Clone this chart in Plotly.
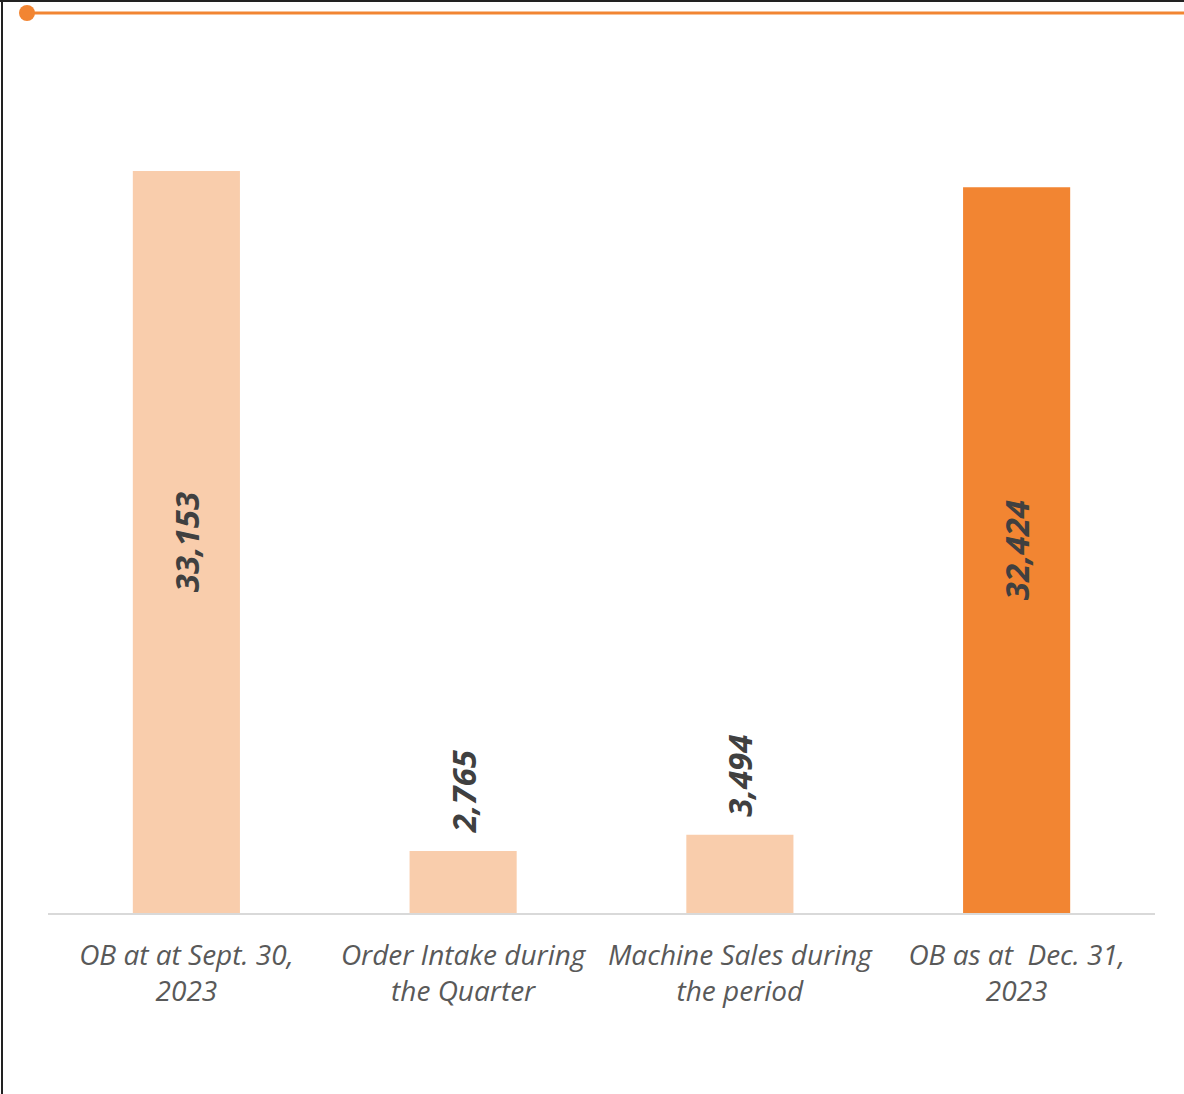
import plotly.graph_objects as go

categories = ["OB at at Sept. 30,<br>2023", "Order Intake during<br>the Quarter",
              "Machine Sales during<br>the period", "OB as at  Dec. 31,<br>2023"]
values = [33153, 2765, 3494, 32424]
labels = ["33,153", "2,765", "3,494", "32,424"]
colors = ["#F9CDAC", "#F9CDAC", "#F9CDAC", "#F28532"]
inside = [True, False, False, True]

W, H = 1184, 1094
L, R, T, B = 48, 29, 100, 181
pw, ph = W - L - R, H - T - B

def px(x):
    return (x - L) / pw

def py(y):
    return (H - B - y) / ph

lab_font = dict(family="Open Sans", size=33, color="#404040", weight="bold", style="italic")

fig = go.Figure(go.Bar(
    x=categories, y=values, marker_color=colors, marker_line_width=0,
    text=[l if i else "" for l, i in zip(labels, inside)], textposition="inside", textangle=-90,
    insidetextanchor="middle", cliponaxis=False, textfont=lab_font,
))

for c, v, l, i in zip(categories, values, labels, inside):
    if not i:
        fig.add_annotation(x=c, y=v, text=l, textangle=-90, showarrow=False,
                           yanchor="bottom", yshift=16, font=lab_font)

fig.update_layout(
    width=W, height=H, margin=dict(l=L, r=R, t=T, b=B),
    paper_bgcolor="white", plot_bgcolor="white", bargap=0.613, showlegend=False,
    uniformtext=dict(mode=False),
    xaxis=dict(showline=True, linecolor="#D9D9D9", linewidth=2, ticks="",
               tickfont=dict(family="Open Sans", size=28, color="#595959", style="italic"),
               ticklabelstandoff=16, showgrid=False),
    yaxis=dict(range=[0, ph / (742 / 33153)], visible=False, showgrid=False),
    shapes=[
        dict(type="line", xref="paper", yref="paper", x0=px(0), x1=px(W), y0=py(1), y1=py(1),
             line=dict(color="#222222", width=2)),
        dict(type="line", xref="paper", yref="paper", x0=px(2), x1=px(2), y0=py(0), y1=py(H),
             line=dict(color="#222222", width=2)),
        dict(type="line", xref="paper", yref="paper", x0=px(27), x1=px(W), y0=py(13), y1=py(13),
             line=dict(color="#F28532", width=3)),
        dict(type="circle", xref="paper", yref="paper", x0=px(19), x1=px(35), y0=py(5), y1=py(21),
             fillcolor="#F28532", line=dict(width=0)),
    ],
)

fig.write_html("out.html")
